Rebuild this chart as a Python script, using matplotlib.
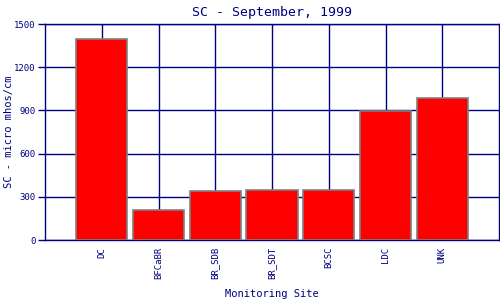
import matplotlib
matplotlib.use("Agg")
import matplotlib.pyplot as plt

sites = ["DC", "BFCaBR", "BR_SDB", "BR_SDT", "BCSC", "LDC", "UNK"]
values = [1393, 206, 338, 345, 345, 896, 984]
yticks = [0, 300, 600, 900, 1200, 1500]

navy = "#000080"
plt.rcParams["font.family"] = ["DejaVu Sans Mono"]

fig = plt.figure(figsize=(5, 3), dpi=100)
ax = fig.add_axes([0.09, 0.2, 0.908, 0.72])
x = list(range(len(sites)))
ax.set_axisbelow(True)
ax.grid(True, color=navy, linewidth=1)
ax.bar(x, values, width=0.9, color="#FF0000", edgecolor="#808080", linewidth=1.2, zorder=3)
ax.set_xlim(-1, len(sites))
ax.set_ylim(0, 1500)
ax.set_yticks(yticks)
ax.set_yticklabels([str(v) for v in yticks], fontsize=6.5, color=navy)
ax.set_xticks(x)
ax.set_xticklabels(sites, rotation=90, fontsize=6.5, color=navy)
ax.tick_params(axis="y", length=5, color=navy, width=1, pad=2)
ax.tick_params(axis="x", length=0, pad=5)
for s in ax.spines.values():
    s.set_color(navy)
    s.set_linewidth(1)
ax.set_title("SC - September, 1999", fontsize=9.5, color=navy, pad=6)
fig.text(272 / 500, 1 - 294 / 300, "Monitoring Site", fontsize=7.5, color=navy,
         ha="center", va="center")
fig.text(9 / 500, 1 - 132 / 300, "SC - micro mhos/cm", fontsize=7.5, color=navy,
         ha="center", va="center", rotation=90)
fig.savefig("out.png", dpi=100)
